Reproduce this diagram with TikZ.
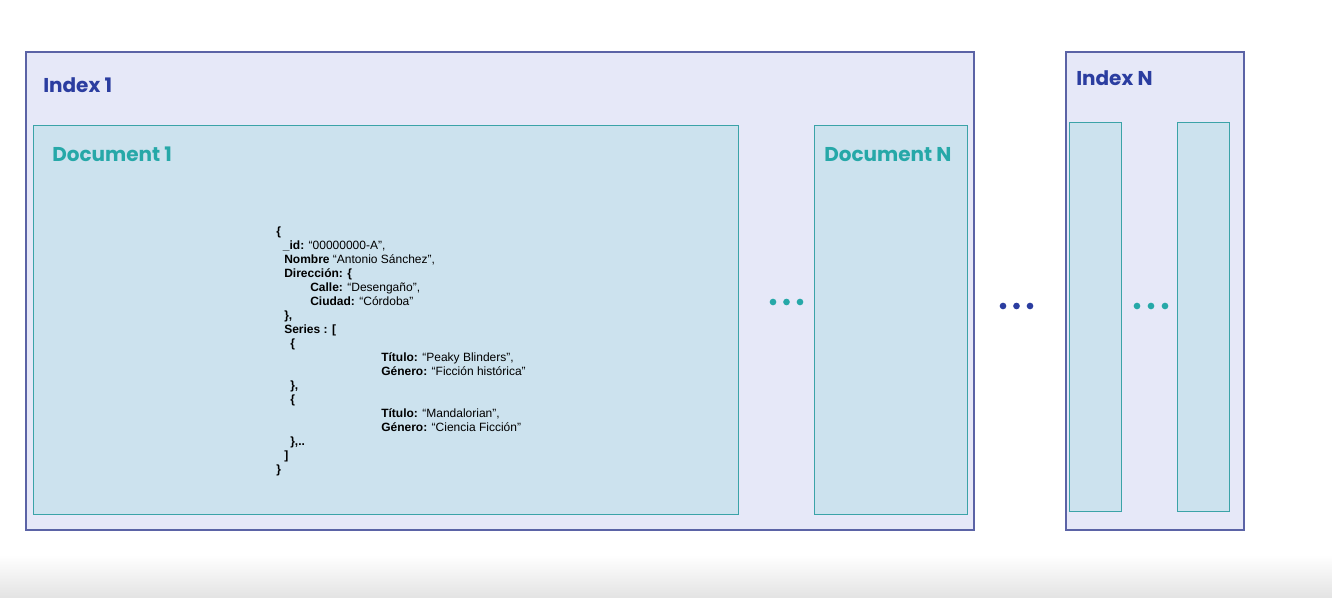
\documentclass[tikz,border=0pt]{standalone}
\usepackage{fontspec}
\setmainfont{Liberation Sans}
\newfontfamily\headfont{Poppins}
\usetikzlibrary{positioning}

\definecolor{idxfill}{HTML}{E6E8F8}
\definecolor{idxline}{HTML}{5B63A6}
\definecolor{docfill}{HTML}{CCE2EE}
\definecolor{docline}{HTML}{3BA3A8}
\definecolor{idxtext}{HTML}{2B3DA0}
\definecolor{doctext}{HTML}{26A8A8}

\begin{document}
\begin{tikzpicture}[
  x=0.75pt, y=-0.75pt,
  idx/.style={rectangle, draw=idxline, fill=idxfill, line width=0.8pt, anchor=north west, inner sep=0pt, outer sep=0pt},
  doc/.style={rectangle, draw=docline, fill=docfill, line width=0.7pt, anchor=north west, inner sep=0pt, outer sep=0pt},
  idxlabel/.style={anchor=base west, inner sep=0pt, text=idxtext, font=\headfont\bfseries\fontsize{15}{17}\selectfont},
  doclabel/.style={anchor=base west, inner sep=0pt, text=doctext, font=\headfont\bfseries\fontsize{15}{17}\selectfont},
  dot/.style={circle, fill=#1, inner sep=0pt, minimum size=5pt},
]
\useasboundingbox (0,0) rectangle (1332,598);

% === background fade at the bottom ===
\shade[top color=white, bottom color=gray!22] (0,555) rectangle (1332,598);

% === INDEX 1 ===
\node[idx, minimum width=711pt, minimum height=358.5pt] (index1) at (26,52) {};
\node[idxlabel] (index1lbl) at (43,93) {Index 1};

\node[doc, minimum width=528.75pt, minimum height=291.75pt] (doc1) at (33,125) {};
\node[doclabel] (doc1lbl) at (52,162) {Document 1};

\node[doc, minimum width=114.75pt, minimum height=291.75pt] (docN) at (814,125) {};
\node[doclabel] (docNlbl) at (824,162) {Document N};

% the JSON document
\node[anchor=north west, inner sep=0pt, align=left, font=\fontsize{9}{10.5}\selectfont] (json) at (276,227) {%
\textbf{\{}\\
\hspace*{5pt}\textbf{\_id:} “00000000-A”,\\
\hspace*{6pt}\textbf{Nombre} “Antonio Sánchez”,\\
\hspace*{6pt}\textbf{Dirección: \{}\\
\hspace*{25.5pt}\textbf{Calle:} “Desengaño”,\\
\hspace*{25.5pt}\textbf{Ciudad:} “Córdoba”\\
\hspace*{6pt}\textbf{\},}\\
\hspace*{6pt}\textbf{Series : [}\\
\hspace*{10.5pt}\textbf{\{}\\
\hspace*{78.75pt}\textbf{Título:} “Peaky Blinders”,\\
\hspace*{78.75pt}\textbf{Género:} “Ficción histórica”\\
\hspace*{10.5pt}\textbf{\},}\\
\hspace*{10.5pt}\textbf{\{}\\
\hspace*{78.75pt}\textbf{Título:} “Mandalorian”,\\
\hspace*{78.75pt}\textbf{Género:} “Ciencia Ficción”\\
\hspace*{10.5pt}\textbf{\},..}\\
\hspace*{6pt}\textbf{]}\\
\textbf{\}}};

% dots between documents
\foreach \i/\xx in {1/773, 2/786.5, 3/800}
  \node[dot=doctext] (ddot\i) at (\xx,302) {};

% dots between indexes
\foreach \i/\xx in {1/1003, 2/1016.5, 3/1030}
  \node[dot=idxtext] (idot\i) at (\xx,306) {};

% === INDEX N ===
\node[idx, minimum width=133.5pt, minimum height=358.5pt] (indexN) at (1066,52) {};
\node[idxlabel] (indexNlbl) at (1076,86) {Index N};

\node[doc, minimum width=39pt, minimum height=291.75pt] (docNa) at (1069,122) {};
\node[doc, minimum width=39pt, minimum height=291.75pt] (docNb) at (1177,122) {};

\foreach \i/\xx in {1/1137, 2/1151, 3/1165}
  \node[dot=doctext] (ndot\i) at (\xx,306) {};
\end{tikzpicture}
\end{document}
